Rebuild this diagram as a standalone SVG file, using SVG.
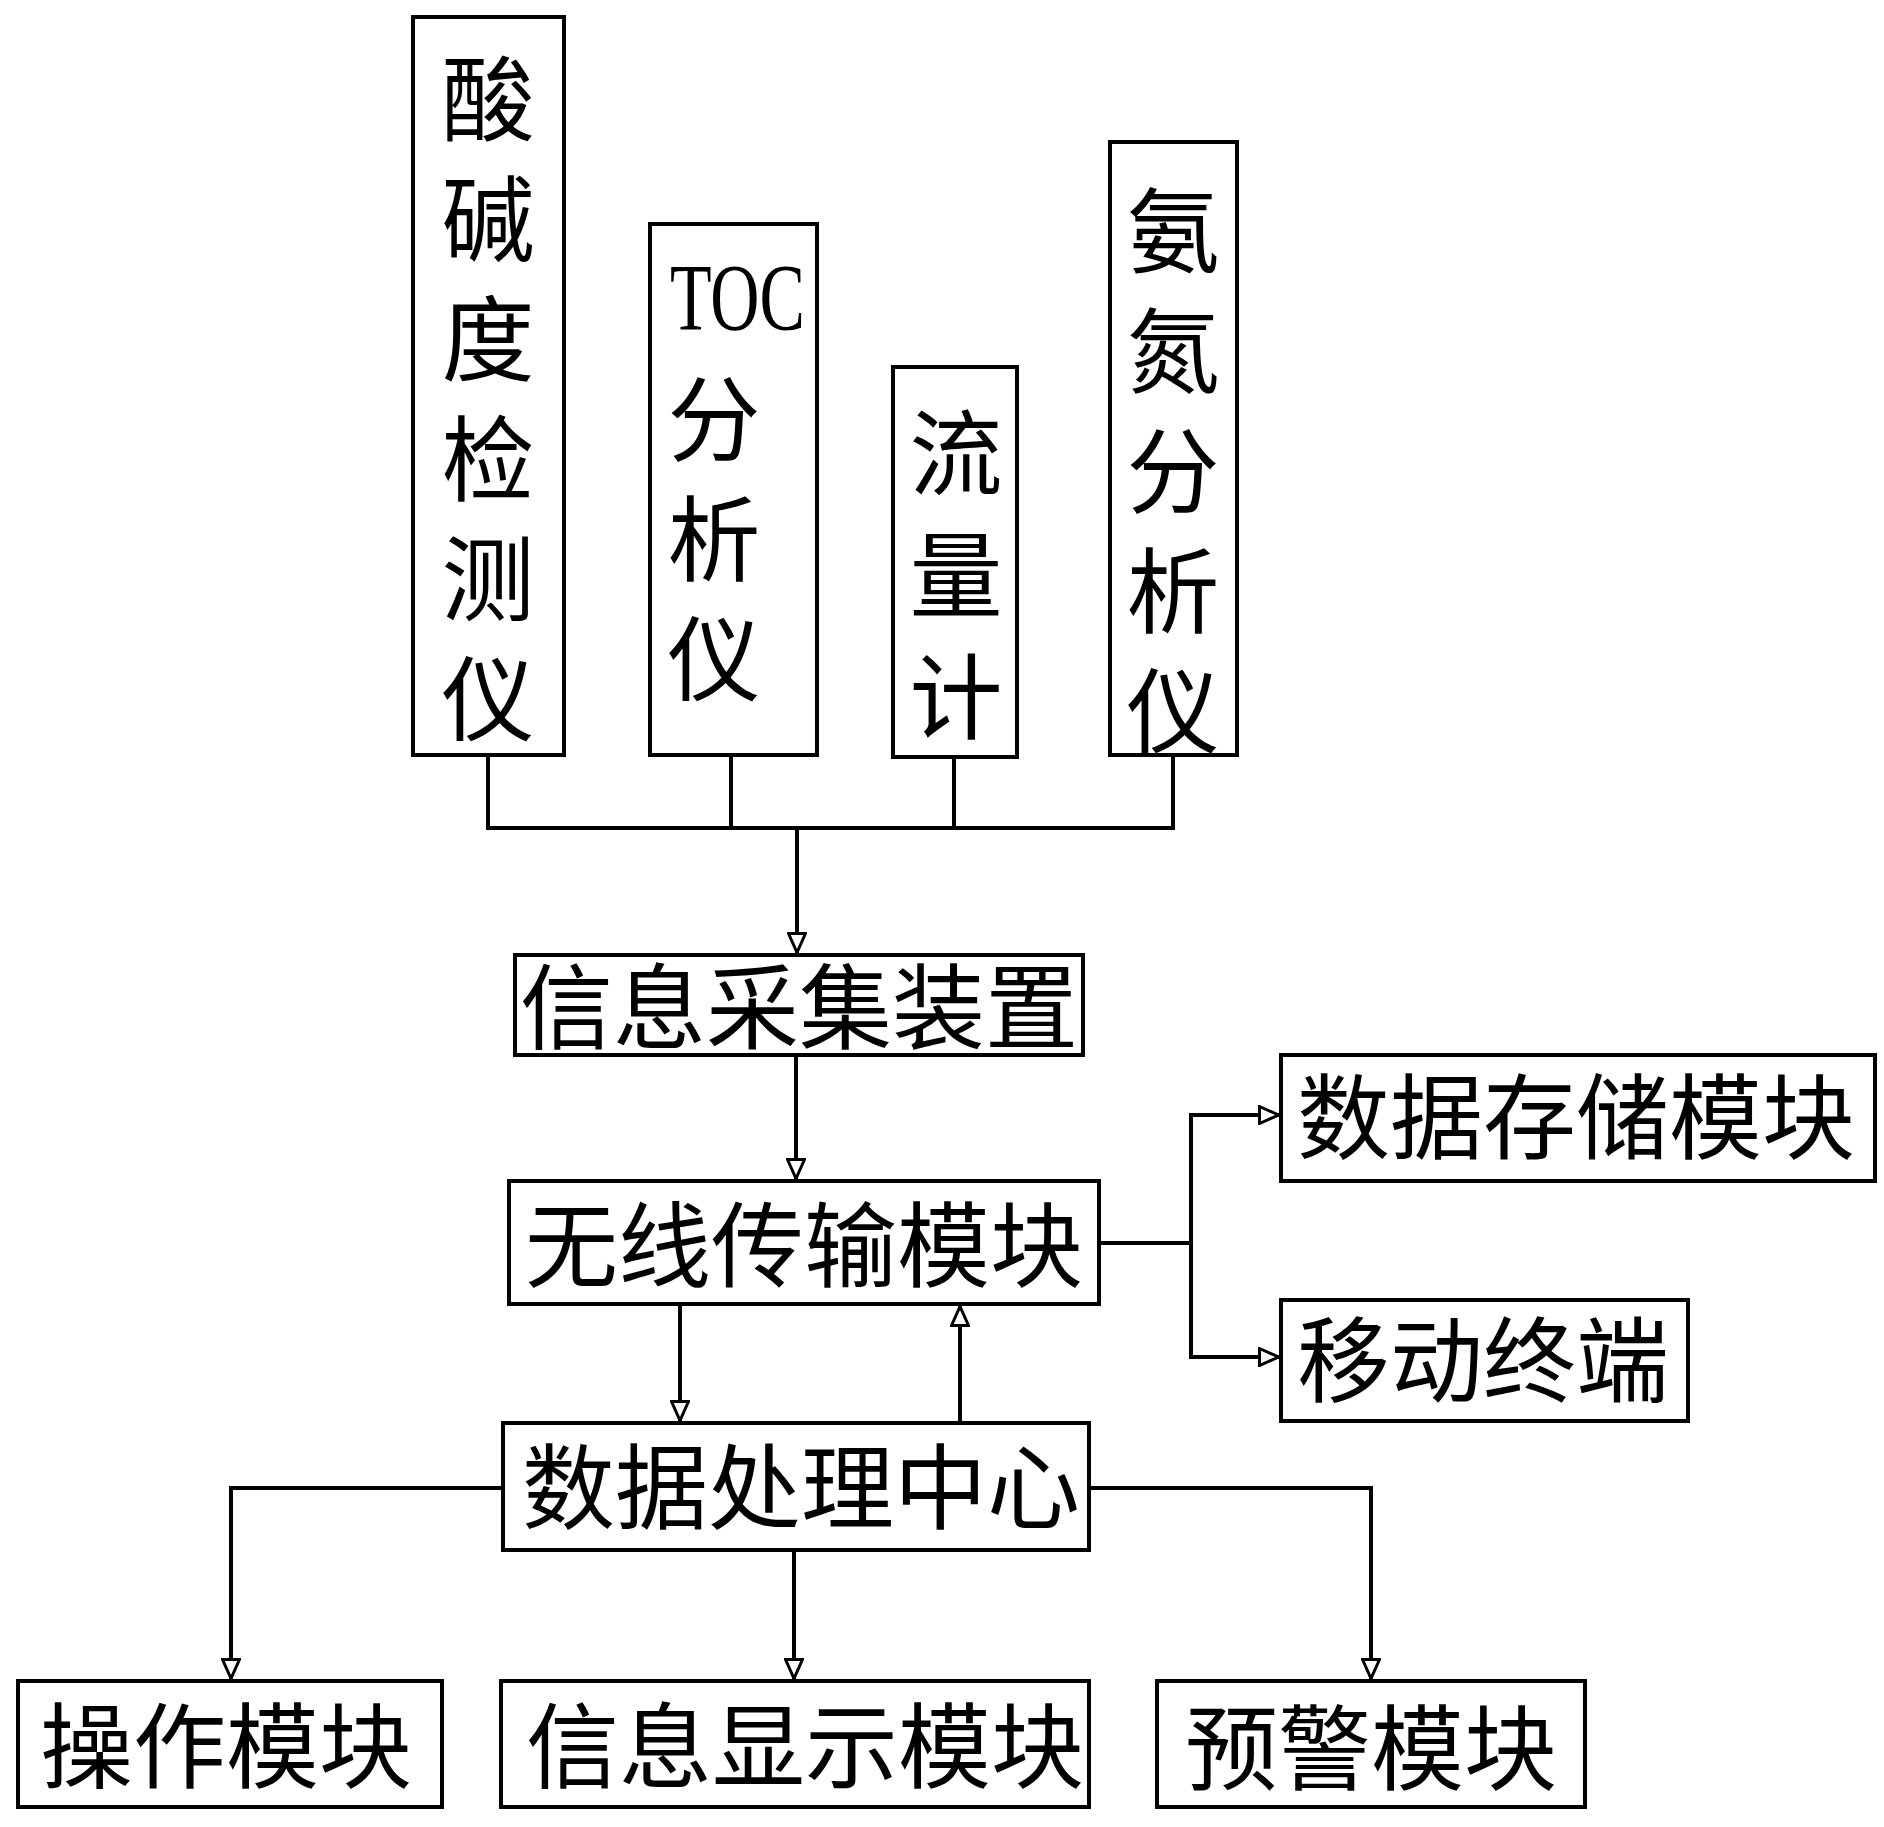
<svg xmlns="http://www.w3.org/2000/svg" width="1884" height="1827" viewBox="0 0 1884 1827">
<style>
.box{fill:#fff;stroke:#000;stroke-width:4}
.ln{fill:none;stroke:#000;stroke-width:4}
.t{font-family:"Noto Sans CJK SC","Noto Sans CJK JP",sans-serif;font-size:93px;fill:#000}
.c{text-anchor:middle}
.v{writing-mode:vertical-rl;text-orientation:upright}
.lat{font-family:"Liberation Serif",serif;font-size:95px;fill:#000}
</style>
<defs>
<marker id="ah" viewBox="0 0 22 20" refX="21" refY="10" markerWidth="22" markerHeight="20" markerUnits="userSpaceOnUse" orient="auto">
<path d="M1.5,1.5 L20.5,10 L1.5,18.5 Z" fill="#fff" stroke="#000" stroke-width="3"/>
</marker>
</defs>
<rect width="1884" height="1827" fill="#fff"/>
<g id="connectors">
<path class="ln" d="M488,755 V828 M731,755 V828 M954,757 V828 M1173,755 V828 M486,828 H1175"/>
<path class="ln" d="M797,828 V953" marker-end="url(#ah)"/>
<path class="ln" d="M796,1057 V1179" marker-end="url(#ah)"/>
<path class="ln" d="M1101,1243 H1191 M1191,1113 V1359"/>
<path class="ln" d="M1189,1115 H1279" marker-end="url(#ah)"/>
<path class="ln" d="M1189,1357 H1279" marker-end="url(#ah)"/>
<path class="ln" d="M680,1306 V1421" marker-end="url(#ah)"/>
<path class="ln" d="M960,1421 V1306" marker-end="url(#ah)"/>
<path class="ln" d="M501,1488 H231 V1679" marker-end="url(#ah)"/>
<path class="ln" d="M794,1552 V1679" marker-end="url(#ah)"/>
<path class="ln" d="M1091,1488 H1371 V1679" marker-end="url(#ah)"/>
</g>
<g id="acid-base">
<rect class="box" x="413" y="17" width="151" height="738"/>
<text class="t v" x="488" y="52" letter-spacing="27">酸碱度检测仪</text>
</g>
<g id="toc">
<rect class="box" x="650" y="224" width="167" height="531"/>
<text class="lat" x="670" y="330" textLength="135" lengthAdjust="spacingAndGlyphs">TOC</text>
<text class="t v" x="714" y="372" letter-spacing="27">分析仪</text>
</g>
<g id="flowmeter">
<rect class="box" x="893" y="367" width="124" height="390"/>
<text class="t v" x="956" y="406" letter-spacing="29">流量计</text>
</g>
<g id="ammonia">
<rect class="box" x="1110" y="142" width="127" height="613"/>
<text class="t v" x="1173" y="184" letter-spacing="27">氨氮分析仪</text>
</g>
<g id="collector">
<rect class="box" x="515" y="955" width="568" height="100"/>
<text class="t c" x="799" y="1042">信息采集装置</text>
</g>
<g id="wireless">
<rect class="box" x="509" y="1181" width="590" height="123"/>
<text class="t c" x="804" y="1280">无线传输模块</text>
</g>
<g id="storage">
<rect class="box" x="1281" y="1055" width="594" height="126"/>
<text class="t" x="1297" y="1152">数据存储模块</text>
</g>
<g id="mobile">
<rect class="box" x="1281" y="1300" width="407" height="121"/>
<text class="t" x="1297" y="1395">移动终端</text>
</g>
<g id="processing">
<rect class="box" x="503" y="1423" width="586" height="127"/>
<text class="t c" x="801" y="1522">数据处理中心</text>
</g>
<g id="operation">
<rect class="box" x="18" y="1681" width="424" height="126"/>
<text class="t c" x="226" y="1781">操作模块</text>
</g>
<g id="display">
<rect class="box" x="501" y="1681" width="588" height="126"/>
<text class="t c" x="805" y="1781">信息显示模块</text>
</g>
<g id="warning">
<rect class="box" x="1157" y="1681" width="428" height="126"/>
<text class="t c" x="1371" y="1783">预警模块</text>
</g>
</svg>
